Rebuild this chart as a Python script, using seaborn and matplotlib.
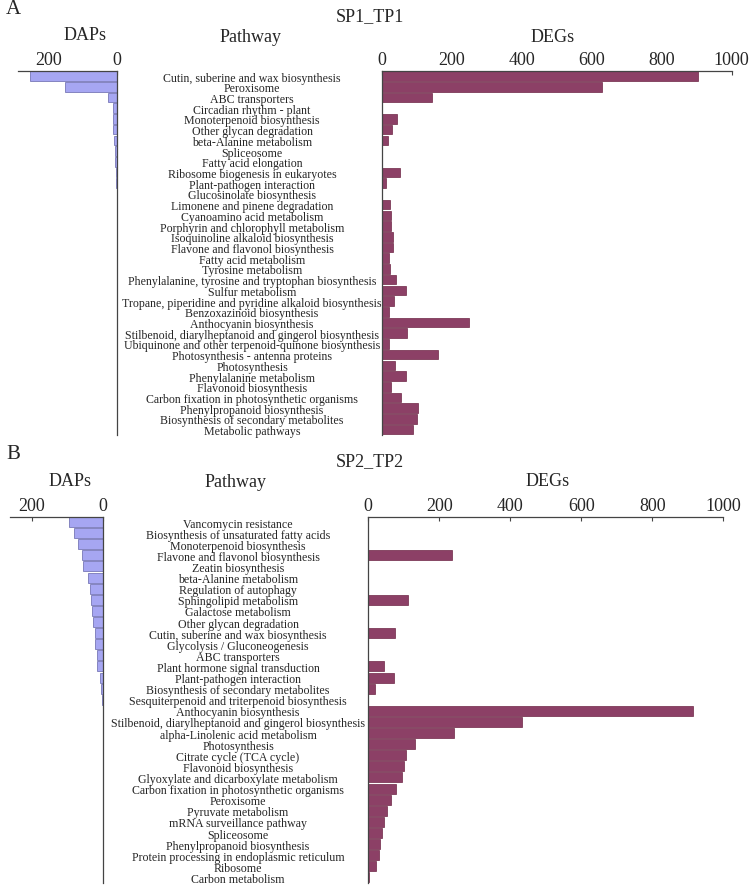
import matplotlib
matplotlib.use("Agg")
import matplotlib.pyplot as plt
import seaborn as sns

sns.set_style("white")
plt.rcParams["font.family"] = ["Liberation Serif", "DejaVu Serif"]

# ---- data: panel A (SP1_TP1) ----
pathways_a = [
    "Cutin, suberine and wax biosynthesis", "Peroxisome", "ABC transporters",
    "Circadian rhythm - plant", "Monoterpenoid biosynthesis", "Other glycan degradation",
    "beta-Alanine metabolism", "Spliceosome", "Fatty acid elongation",
    "Ribosome biogenesis in eukaryotes", "Plant-pathogen interaction",
    "Glucosinolate biosynthesis", "Limonene and pinene degradation",
    "Cyanoamino acid metabolism", "Porphyrin and chlorophyll metabolism",
    "Isoquinoline alkaloid biosynthesis", "Flavone and flavonol biosynthesis",
    "Fatty acid metabolism", "Tyrosine metabolism",
    "Phenylalanine, tyrosine and tryptophan biosynthesis", "Sulfur metabolism",
    "Tropane, piperidine and pyridine alkaloid biosynthesis",
    "Benzoxazinoid biosynthesis", "Anthocyanin biosynthesis",
    "Stilbenoid, diarylheptanoid and gingerol biosynthesis",
    "Ubiquinone and other terpenoid-quinone biosynthesis",
    "Photosynthesis - antenna proteins", "Photosynthesis",
    "Phenylalanine metabolism", "Flavonoid biosynthesis",
    "Carbon fixation in photosynthetic organisms", "Phenylpropanoid biosynthesis",
    "Biosynthesis of secondary metabolites", "Metabolic pathways",
]
daps_a = [255, 154, 26, 14, 13, 12, 11, 6, 6, 4, 4, 0, 0, 0, 0, 0, 0,
          0, 0, 0, 0, 0, 0, 0, 0, 0, 0, 0, 0, 0, 0, 0, 0, 0]
degs_a = [905, 628, 143, 0, 45, 29, 17, 0, 0, 52, 11, 0, 23, 26, 27, 31, 32,
          22, 23, 40, 68, 36, 22, 250, 71, 22, 160, 38, 69, 26, 54, 104, 100, 88]

# ---- data: panel B (SP2_TP2) ----
pathways_b = [
    "Vancomycin resistance", "Biosynthesis of unsaturated fatty acids",
    "Monoterpenoid biosynthesis", "Flavone and flavonol biosynthesis",
    "Zeatin biosynthesis", "beta-Alanine metabolism", "Regulation of autophagy",
    "Sphingolipid metabolism", "Galactose metabolism", "Other glycan degradation",
    "Cutin, suberine and wax biosynthesis", "Glycolysis / Gluconeogenesis",
    "ABC transporters", "Plant hormone signal transduction",
    "Plant-pathogen interaction", "Biosynthesis of secondary metabolites",
    "Sesquiterpenoid and triterpenoid biosynthesis", "Anthocyanin biosynthesis",
    "Stilbenoid, diarylheptanoid and gingerol biosynthesis",
    "alpha-Linolenic acid metabolism", "Photosynthesis",
    "Citrate cycle (TCA cycle)", "Flavonoid biosynthesis",
    "Glyoxylate and dicarboxylate metabolism",
    "Carbon fixation in photosynthetic organisms", "Peroxisome",
    "Pyruvate metabolism", "mRNA surveillance pathway", "Spliceosome",
    "Phenylpropanoid biosynthesis", "Protein processing in endoplasmic reticulum",
    "Ribosome", "Carbon metabolism",
]
daps_b = [96, 82, 70, 60, 57, 42, 37, 34, 31, 30, 24, 23, 18, 17, 9, 6, 4,
          0, 0, 0, 0, 0, 0, 0, 0, 0, 0, 0, 0, 0, 0, 0, 0]
degs_b = [0, 0, 0, 237, 0, 0, 0, 113, 0, 0, 75, 0, 0, 44, 73, 19, 0,
          916, 432, 241, 132, 107, 100, 94, 77, 63, 52, 45, 39, 34, 29, 21, 2]

DAP_COLOR = "#9999ff"
DAP_EDGE = "#6666aa"
DEG_COLOR = "#993366"
DEG_EDGE = "#6e2646"
SPINE = "#444444"

W, H = 750, 887
fig = plt.figure(figsize=(W / 100, H / 100), dpi=100)


def px_axes(x0, x1, y0, y1):
    return fig.add_axes([x0 / W, 1 - y1 / H, (x1 - x0) / W, (y1 - y0) / H])


def draw_panel(pathways, daps, degs, dap_x, deg_x, y0, y1, dap_max):
    # DAPs: bars grow to the left, pathway names as right-side tick labels
    ax1 = px_axes(dap_x[0], dap_x[1], y0, y1)
    sns.barplot(x=daps, y=pathways, orient="h", color=DAP_COLOR,
                edgecolor=DAP_EDGE, linewidth=0.5, width=0.9, ax=ax1)
    ax1.set_xlim(dap_max, 0)
    ax1.set_xticks([200, 0])
    ax1.xaxis.tick_top()
    ax1.yaxis.tick_right()
    ax1.tick_params(axis="x", direction="in", length=3, pad=2, labelsize=13,
                    color=SPINE)
    ax1.tick_params(axis="y", length=0, pad=97, labelsize=8.6)
    for lab in ax1.get_yticklabels():
        lab.set_ha("center")
    for s in ["left", "bottom"]:
        ax1.spines[s].set_visible(False)
    for s in ["top", "right"]:
        ax1.spines[s].set_color(SPINE)
        ax1.spines[s].set_linewidth(0.9)
    ax1.set_xlabel("")
    ax1.set_ylabel("")

    # DEGs
    ax2 = px_axes(deg_x[0], deg_x[1], y0, y1)
    sns.barplot(x=degs, y=pathways, orient="h", color=DEG_COLOR,
                edgecolor=DEG_EDGE, linewidth=0.5, width=0.9, ax=ax2)
    ax2.set_xlim(0, 1000)
    ax2.set_xticks([0, 200, 400, 600, 800, 1000])
    ax2.xaxis.tick_top()
    ax2.tick_params(axis="x", direction="in", length=3, pad=2, labelsize=13,
                    color=SPINE)
    ax2.set_yticks([])
    for s in ["right", "bottom"]:
        ax2.spines[s].set_visible(False)
    for s in ["top", "left"]:
        ax2.spines[s].set_color(SPINE)
        ax2.spines[s].set_linewidth(0.9)
    ax2.set_xlabel("")
    ax2.set_ylabel("")
    return ax1, ax2


draw_panel(pathways_a, daps_a, degs_a, (18.3, 117.3), (381.7, 731.7),
           71.7, 436, 290)
draw_panel(pathways_b, daps_b, degs_b, (10, 103.3), (368.3, 723.3),
           517.5, 884, 260)


def ftext(x, y, s, size=13, **kw):
    fig.text(x / W, 1 - y / H, s, fontsize=size, ha="center", va="center", **kw)


# panel A headings
ftext(13, 10, "A", size=15)
ftext(370, 17, "SP1_TP1")
ftext(85, 36, "DAPs")
ftext(251, 37, "Pathway")
ftext(553, 37, "DEGs")

# panel B headings
ftext(13, 455, "B", size=15)
ftext(370, 462, "SP2_TP2")
ftext(70, 482, "DAPs")
ftext(236, 483, "Pathway")
ftext(548, 482, "DEGs")

fig.savefig("out.png", dpi=100, facecolor="white")
